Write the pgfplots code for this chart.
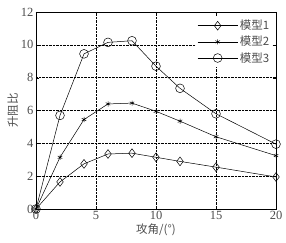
\documentclass[border=0pt]{standalone}
\usepackage{pgfplots}
\pgfplotsset{compat=1.18}
\usepackage{fontspec}
\setmainfont{Liberation Serif}
\newfontfamily\cjk{Noto Sans CJK SC}
\begin{document}
\begin{tikzpicture}
\begin{axis}[
  scale only axis,
  width=240pt, height=197pt,
  xmin=0, xmax=20, ymin=0, ymax=12,
  xtick={0,5,10,15,20}, ytick={0,2,4,6,8,10,12},
  tick align=inside,
  major tick length=3pt,
  grid=major,
  major grid style={black, densely dotted, line width=0.4pt},
  axis line style={black, line width=0.6pt},
  tick style={black},
  ticklabel style={font=\fontsize{12.5}{14}\selectfont, text=black!70},
  xticklabel style={yshift=1pt},
  yticklabel style={xshift=1pt},
  /pgf/number format/assume math mode=true,
  xlabel={\cjk\fontsize{11.5}{13}\selectfont 攻角/(°)},
  ylabel={\cjk\fontsize{11.5}{13}\selectfont 升阻比},
  xlabel style={text=black!70, yshift=3pt},
  ylabel style={text=black!70, yshift=-4pt},
  legend style={draw=none, fill=white, at={(0.985,0.975)}, anchor=north east, font=\cjk\fontsize{11.5}{13}\selectfont, text=black!70, row sep=1pt, inner sep=1pt},
  legend cell align=left,
  legend image code/.code={\draw[mark repeat=2,mark phase=2] plot coordinates {(0cm,0cm)(0.7cm,0cm)(1.4cm,0cm)};},
  every axis plot/.append style={black, line width=0.5pt},
]
\addplot[mark=diamond, mark options={fill=white, scale=2.2}] coordinates {
(0,0)(2,1.65)(4,2.75)(6,3.35)(8,3.4)(10,3.15)(12,2.9)(15,2.55)(20,1.95)};
\addplot[mark=asterisk, mark options={scale=1.3}] coordinates {
(0,0)(2,3.15)(4,5.45)(6,6.4)(8,6.45)(10,5.95)(12,5.35)(15,4.4)(20,3.25)};
\addplot[mark=o, mark options={fill=white, scale=2.2}] coordinates {
(0,0)(2,5.7)(4,9.45)(6,10.15)(8,10.25)(10,8.7)(12,7.35)(15,5.8)(20,3.95)};
\legend{模型1,模型2,模型3}
\end{axis}
\path (-36pt,-34pt) rectangle (250pt,209pt);
\end{tikzpicture}
\end{document}
